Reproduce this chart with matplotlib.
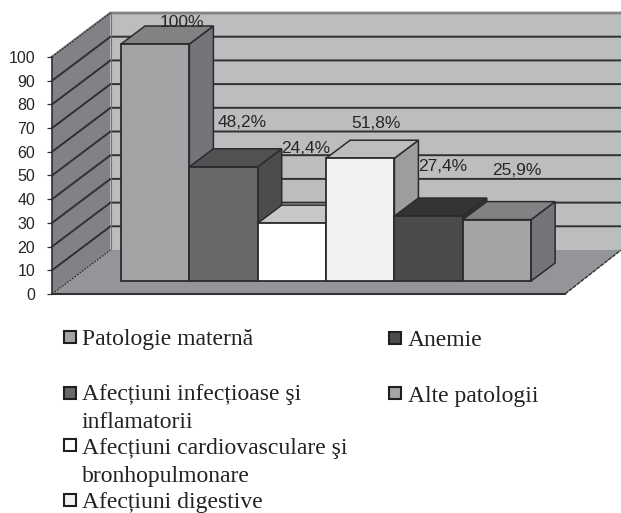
import matplotlib
matplotlib.use("Agg")
import matplotlib.pyplot as plt
from matplotlib.patches import Polygon, Rectangle

# ---- data ----
categories = ["Patologie maternă", "Afecțiuni infecțioase şi\ninflamatorii",
              "Afecțiuni cardiovasculare şi\nbronhopulmonare", "Afecțiuni digestive",
              "Anemie", "Alte patologii"]
values = [100, 48.2, 24.4, 51.8, 27.4, 25.9]
value_labels = ["100%", "48,2%", "24,4%", "51,8%", "27,4%", "25,9%"]
y_ticks = list(range(0, 101, 10))

# ---- styles ----
front = ["#A3A4A6", "#68696B", "#FFFFFF", "#F1F2F4", "#4A4B4D", "#A3A4A6"]
top = ["#808284", "#515254", "#C6C7C9", "#BCBDBF", "#333436", "#808284"]
side = ["#737578", "#4B4C4E", "#A6A7A9", "#9C9D9F", "#333436", "#737578"]
WALL, SIDEWALL, FLOOR, INK = "#BCBDBF", "#808285", "#939598", "#2F3032"

W, H = 621, 513
XS, YS = 68.35, 2.37             # px per category, px per value unit
AX_L, AX_R, AX_B, AX_T = 52, 621, 294, 13
FIRST_CENTER = 155.2

fig = plt.figure(figsize=(W / 100, H / 100), dpi=100)
ax = fig.add_axes([AX_L / W, 1 - AX_B / H, (AX_R - AX_L) / W, (AX_B - AX_T) / H])
ax.set_xlim((AX_L - FIRST_CENTER) / XS, (AX_R - FIRST_CENTER) / XS)
ax.set_ylim(0, (AX_B - AX_T) / YS)
ax.patch.set_visible(False)

x0 = ax.get_xlim()[0]
x1 = ax.get_xlim()[1]
ymax = max(y_ticks)
wdx, wdy = 58.5 / XS, 44 / YS      # wall depth in data units
fdx = 56 / XS                      # floor's right edge depth
bdx, bdy = 24 / XS, 18 / YS        # bar depth
base = 13 / YS                     # bars stand this far back on the floor


def poly(pts, fc, ec="none", lw=0, z=1, **kw):
    ax.add_patch(Polygon(pts, closed=True, facecolor=fc, edgecolor=ec, linewidth=lw,
                         zorder=z, clip_on=False, joinstyle="miter", **kw))


# walls and floor
poly([(x0 + wdx, wdy), (x1, wdy), (x1, wdy + ymax), (x0 + wdx, wdy + ymax)], WALL, z=1)
poly([(x0, 0), (x0 + wdx, wdy), (x0 + wdx, wdy + ymax), (x0, ymax)], SIDEWALL, z=1)
poly([(x0, 0), (x0 + wdx, wdy), (x1, wdy), (x1 - fdx, 0)], FLOOR, z=2)

# gridlines
for v in y_ticks[1:]:
    col = "#808285" if v == ymax else INK
    ax.plot([x0, x0 + wdx, x1], [v, v + wdy, v + wdy], color=col, lw=2.0 if v == ymax else 1.4,
            zorder=1.5, clip_on=False, solid_joinstyle="miter")
ax.plot([x0, x0 + wdx], [0, wdy], color=INK, lw=0.9, ls=(0, (1.5, 1)), zorder=3)
ax.plot([x0, x0 + wdx], [ymax, ymax + wdy], color=INK, lw=0.9, ls=(0, (1.5, 1)), zorder=3, clip_on=False)
ax.plot([x1 - fdx, x1], [0, wdy], color=INK, lw=1.0, ls=(0, (3, 0.6)), zorder=3)
ax.plot([x0, x1 - fdx], [0, 0], color=INK, lw=1.5, zorder=3, clip_on=False)
ax.plot([x0 + wdx, x0 + wdx], [wdy, wdy + ymax], color="#6f7072", lw=0.8, zorder=1.6)

# bars, left to right: side, top, then front
EDGE = "#2A2B2D"
for i, v in enumerate(values):
    z = 10 + i
    l, r = i - 0.5, i + 0.5
    t = base + v
    poly([(r, base), (r + bdx, base + bdy), (r + bdx, t + bdy), (r, t)], side[i], EDGE, 1.1, z)
    poly([(l, t), (l + bdx, t + bdy), (r + bdx, t + bdy), (r, t)], top[i], EDGE, 1.1, z)
    ax.bar(i, v, width=1, bottom=base, color=front[i], edgecolor=EDGE, linewidth=1.3, zorder=z + 0.5)

# value labels (hand-placed in the source, offsets in px from the bar's top centre)
label_off = [(27, 21), (19, 44), (14, 75), (16, 35), (14, 50), (20, 49)]
for i, (v, s, (ox, oy)) in enumerate(zip(values, value_labels, label_off)):
    ax.text(i + ox / XS, base + v + oy / YS, s, ha="center", va="center",
            family="Liberation Sans", fontsize=12.5, color="#262626", zorder=30, clip_on=False)

# axis
for name in ("top", "right", "bottom"):
    ax.spines[name].set_visible(False)
ax.spines["left"].set_bounds(0, ymax)
ax.spines["left"].set_color(INK)
ax.spines["left"].set_linewidth(1.2)
ax.spines["left"].set_zorder(4)
ax.set_xticks([])
ax.set_yticks(y_ticks)
ax.tick_params(axis="y", length=3.5, width=0.9, color=INK, pad=8.5, labelsize=11.5, labelcolor="#262626")
for lab in ax.get_yticklabels():
    lab.set_family("Liberation Sans")

# legend: hand-set in the source, in two columns
LEG_FS = 17
rows = [(64, 82, 345, 337, 0), (64, 82, 400, 393, 1), (64, 82, 454, 445, 2),
        (64, 82, 508, 500, 3), (389, 408, 346, 338, 4), (389, 408, 402, 393, 5)]
for sx, tx, by, sy, idx in rows:
    fig.patches.append(Rectangle(((sx) / W, 1 - (sy + 6) / H), 12 / W, 12 / H,
                                 transform=fig.transFigure, facecolor=front[idx],
                                 edgecolor="#1f1f1f", linewidth=1.5))
    lines = categories[idx].split("\n")
    for k, line in enumerate(lines):
        fig.text(tx / W, 1 - (by + k * 28) / H, line, family="Liberation Serif",
                 fontsize=LEG_FS, color="#222222", va="baseline", ha="left")

fig.savefig("out.png", dpi=100)
